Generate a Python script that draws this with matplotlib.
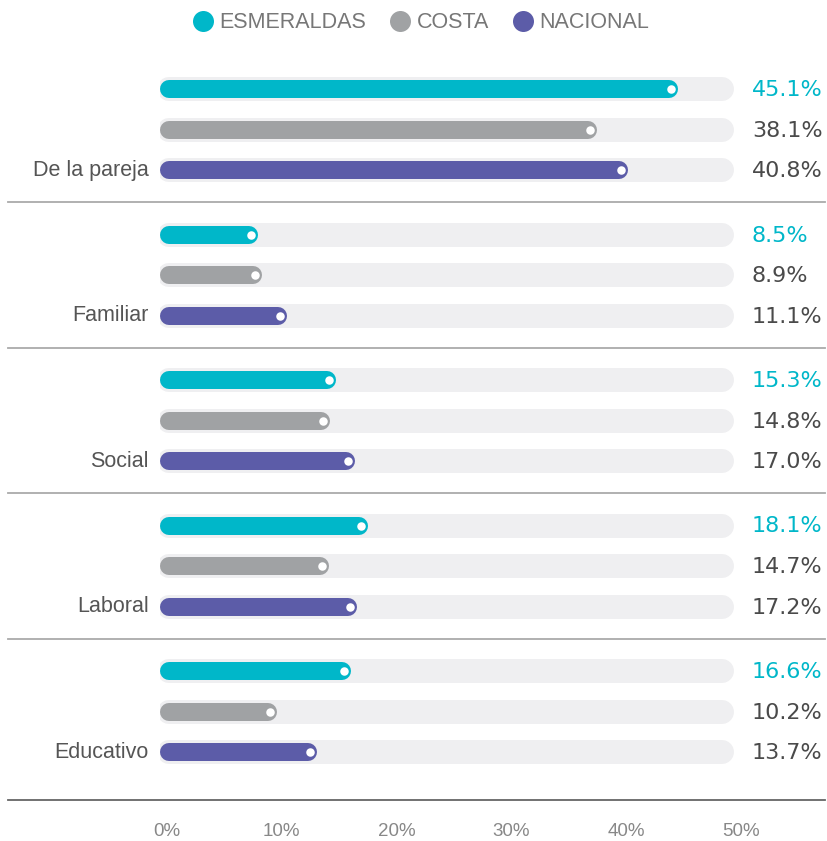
import matplotlib
matplotlib.use("Agg")
import matplotlib.pyplot as plt
from matplotlib.lines import Line2D
from matplotlib.transforms import blended_transform_factory

plt.rcParams['font.family'] = ['Liberation Sans', 'DejaVu Sans']

# data
categories = ["De la pareja", "Familiar", "Social", "Laboral", "Educativo"]
series = ["ESMERALDAS", "COSTA", "NACIONAL"]
esmeraldas = [45.1, 8.5, 15.3, 18.1, 16.6]
costa = [38.1, 8.9, 14.8, 14.7, 10.2]
nacional = [40.8, 11.1, 17.0, 17.2, 13.7]
ticks = [0, 10, 20, 30, 40, 50]

colors = ["#00b7c9", "#a0a2a4", "#5c5ca8"]
value_colors = ["#00b7c9", "#4a4a4a", "#4a4a4a"]
track_color = "#efeff1"

W, H = 828, 841
fig = plt.figure(figsize=(W / 100, H / 100), dpi=100)
x0_px, x1_px = 160, 734
ax = fig.add_axes([x0_px / W, 0, (x1_px - x0_px) / W, 1])
ax.set_xlim(0, 50)
ax.set_ylim(H, 0)  # y in pixel rows from top
ax.axis('off')

ppu = (x1_px - x0_px) / 50.0  # pixels per percent unit
pt = 0.72  # points per pixel at dpi 100

bar_h = 18
track_h = 24
r_bar = bar_h / 2 / ppu
r_trk = track_h / 2 / ppu
dot_off = 7 / ppu

figx = blended_transform_factory(fig.transFigure, ax.transData)

values = [esmeraldas, costa, nacional]
for g, cat in enumerate(categories):
    gy = 89 + g * 145.5
    for i in range(3):
        y = gy + i * 40.7
        v = values[i][g]
        # background track
        ax.plot([-0.26 + r_trk, 50 - r_trk], [y, y], color=track_color,
                lw=track_h * pt, solid_capstyle='round', zorder=1)
        # bar
        ax.plot([r_bar, v - r_bar], [y, y], color=colors[i],
                lw=bar_h * pt, solid_capstyle='round', zorder=2)
        # white dot at the end
        ax.plot([v - dot_off], [y], 'o', color='white', ms=8.5 * pt,
                mec='none', zorder=3)
        ax.text(752 / W, y + 1, f"{v:.1f}%", transform=figx, ha='left',
                va='center', fontsize=16, color=value_colors[i],
                family=['DejaVu Sans'])
    ax.text(149 / W, gy + 2 * 40.7, cat, transform=figx, ha='right',
            va='center', fontsize=15.5, color='#555555')
    sep_y = gy + 2 * 40.7 + (32 if g < 4 else 48)
    ax.plot([8 / W, 825 / W], [sep_y, sep_y], transform=figx,
            color='#aaaaaa' if g < 4 else '#666666', lw=1.3, clip_on=False)

for t in ticks:
    ax.text(t + 0.6, 831, f"{t}%", ha='center', va='center', fontsize=13.5,
            color='#888888',
            family=['Liberation Sans Narrow', 'Liberation Sans', 'DejaVu Sans'])

handles = [Line2D([], [], marker='o', ls='none', color=c, ms=21 * pt,
                  mec='none') for c in colors]
fig.legend(handles, series, loc='center', bbox_to_anchor=(0.508, 1 - 23 / H),
           ncol=3, frameon=False, fontsize=15.5, labelcolor='#777777',
           handletextpad=0.25, columnspacing=1.1, handlelength=1.0)

fig.savefig("out.png", dpi=100)
